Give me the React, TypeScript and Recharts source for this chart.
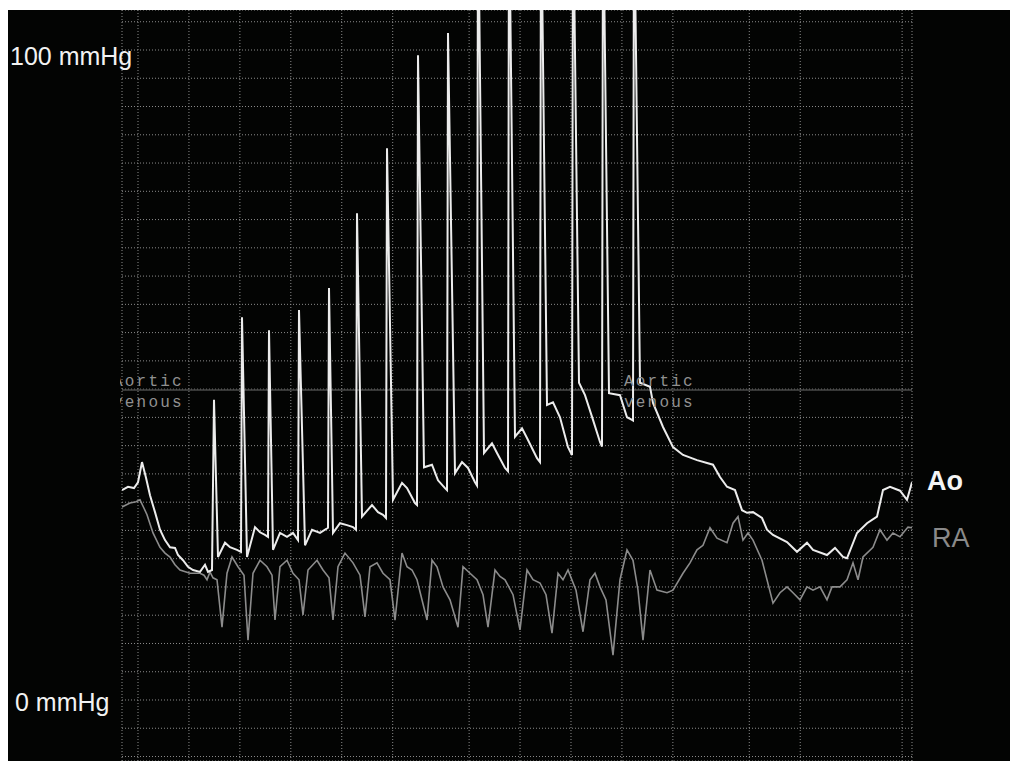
import React from 'react';
import { LineChart, Line, XAxis, YAxis, CartesianGrid, ReferenceLine } from 'recharts';

// Aortic pressure trace (Ao): sample time (sweep units) and pressure (mmHg)
const aoTime = [
  122, 128, 134, 138, 142, 146, 150, 155, 160, 165, 170, 175, 178, 183, 188, 193, 200, 205, 208, 212,
  214, 218, 225, 230, 237, 241,
  242, 247, 255, 260, 265, 268,
  269, 273, 280, 287, 293, 298,
  299, 305, 312, 320, 328,
  329, 333, 340, 347, 353, 356,
  357, 362, 372, 378, 383, 386,
  387, 393, 402, 407, 415, 417,
  418, 424, 432, 438, 445, 447,
  448, 455, 462, 468, 475, 477,
  478, 484, 492, 497, 505, 508,
  509, 515, 522, 527, 537, 540,
  541, 547, 553, 560, 568, 572,
  573, 579, 585, 593, 600, 602,
  603, 609, 620, 627, 632, 633,
  634, 640, 645, 650, 653, 663, 673, 683, 697, 713, 720, 727, 735, 742, 747, 753, 762, 767, 773,
  787, 797, 807, 813, 827, 835, 843, 847, 857, 867, 877, 883, 890, 900, 907, 912,
];
const aoPressure = [
  32.3, 32.8, 32.6, 33.5, 36.6, 34.2, 31.5, 28.9, 26.2, 24.6, 23.5, 23.4, 22.3, 21.5, 20.5, 20.0, 19.7, 20.8, 19.7, 20.0,
  46.2, 22.0, 24.2, 23.5, 23.1, 22.8,
  58.9, 22.0, 26.6, 25.8, 25.4, 25.1,
  56.9, 23.1, 25.7, 25.1, 25.7, 24.6,
  60.0, 23.8, 26.2, 25.7, 26.5,
  63.4, 25.7, 27.2, 26.9, 26.6, 26.2,
  74.9, 28.2, 30.0, 28.9, 28.5, 28.0,
  84.9, 30.8, 33.4, 32.6, 30.3, 30.0,
  99.2, 35.8, 36.2, 33.8, 32.6, 32.3,
  102.6, 34.9, 36.6, 35.7, 33.5, 33.0,
  125, 38.0, 39.5, 38.0, 35.7, 35.2,
  125, 40.5, 41.8, 40.3, 37.2, 36.6,
  125, 45.4, 45.8, 43.5, 38.9, 37.7,
  125, 48.8, 46.9, 43.1, 39.7, 39.0,
  125, 47.2, 46.9, 43.5, 43.1, 43.0,
  125, 48.8, 48.5, 48.2, 45.7, 42.0, 38.9, 37.7, 36.9, 36.2, 34.3, 32.8, 32.3, 29.2, 28.8, 28.9, 28.0, 26.2, 25.4,
  24.3, 22.8, 24.2, 23.1, 22.3, 23.4, 22.0, 21.8, 25.7, 27.2, 28.2, 32.3, 32.8, 32.2, 30.8, 33.5,
];

// Right atrial pressure trace (RA)
const raTime = [
  122, 130, 136, 140, 144, 147, 153, 160, 165, 170, 175, 180, 190, 200, 204, 207, 210, 213,
  217, 222, 227, 232, 238, 244, 248, 253, 260, 267, 272, 275, 280, 287, 293, 299, 303, 308, 317, 323,
  329, 333, 338, 345, 353, 360, 365, 370, 377, 383, 390, 395, 402, 407, 412, 417, 427, 432, 437, 443,
  450, 458, 463, 470, 477, 483, 488, 495, 500, 505, 513, 520, 527, 533, 540, 546, 552, 558, 563, 568,
  576, 583, 590, 595, 600, 606, 613, 620, 627, 633, 638, 643, 650, 657, 667, 673, 683, 690, 697, 703,
  710, 717, 727, 733, 738, 743, 748, 753, 762, 773, 780, 787, 793, 800, 807, 813, 820, 827, 832, 840,
  847, 853, 858, 863, 873, 880, 887, 893, 900, 908, 912,
];
const raPressure = [
  29.7, 30.3, 30.5, 30.8, 29.5, 28.5, 25.7, 23.5, 22.6, 22.0, 20.8, 20.0, 19.5, 19.5, 19.2, 18.5, 19.7, 18.8,
  18.5, 11.2, 19.5, 22.0, 20.5, 19.2, 9.2, 19.5, 21.5, 20.5, 19.2, 12.3, 20.5, 21.5, 19.5, 18.5, 13.1, 20.0, 21.5, 20.0,
  18.8, 12.3, 20.5, 22.6, 21.1, 19.2, 12.8, 20.5, 21.1, 19.5, 18.5, 12.3, 22.6, 20.5, 20.0, 18.5, 12.3, 21.5, 20.5, 17.4,
  15.4, 11.2, 20.5, 19.5, 18.5, 16.2, 11.2, 20.0, 19.0, 18.5, 16.2, 10.8, 20.0, 18.5, 18.0, 16.2, 10.3, 19.5, 18.5, 20.0,
  16.9, 10.5, 18.5, 19.5, 17.4, 15.4, 6.9, 18.5, 23.1, 21.5, 16.9, 9.2, 20.0, 16.9, 16.5, 16.9, 19.5, 21.1, 23.1, 23.8,
  26.5, 24.9, 24.2, 27.2, 28.2, 24.6, 25.7, 24.6, 21.5, 14.9, 16.5, 17.4, 16.5, 15.4, 17.4, 16.9, 17.4, 15.4, 17.4, 17.4,
  18.5, 21.1, 18.5, 22.0, 23.5, 26.2, 24.6, 25.7, 25.1, 26.6, 26.5,
];

// Grid divisions of the monitor sweep
const gridTimes = Array.from({ length: 31 }, (_, k) => 138 + 25.47 * k);
const gridPressures = Array.from({ length: 27 }, (_, k) => ((k - 2) * 100) / 23);
const referenceLevel = 47.7;
const pressureLabels = [
  { value: 100, text: '100 mmHg' },
  { value: 0, text: '0 mmHg' },
];

const aoData = aoTime.map((t, i) => ({ t, p: aoPressure[i] }));
const raData = raTime.map((t, i) => ({ t, p: raPressure[i] }));

const W = 1010;
const H = 751;

const PressureTick = (props: any) => {
  const { y, payload } = props;
  const v = payload.value as number;
  const lab = pressureLabels.find((l) => Math.abs(l.value - v) < 0.01);
  if (!lab) return <g />;
  const isTop = lab.value === 100;
  return (
    <text
      x={isTop ? 2 : 7}
      y={y + (isTop ? 15 : 11)}
      fill="#f2f2f2"
      fontFamily="'Liberation Sans', Arial, sans-serif"
      fontSize={25}
      textAnchor="start"
    >
      {lab.text}
    </text>
  );
};

export default function App() {
  return (
    <div style={{ paddingTop: 2 }}>
      <div style={{ position: 'relative', width: W, height: H, background: '#030403' }}>
        <LineChart width={W} height={H} margin={{ top: 0, right: 106, bottom: 0, left: 0 }}>
          <CartesianGrid stroke="#8c8c8c" strokeDasharray="1 2" strokeWidth={1} />
          <XAxis
            type="number"
            dataKey="t"
            domain={[122, 912]}
            ticks={gridTimes}
            allowDataOverflow
            hide
          />
          <YAxis
            type="number"
            width={114}
            domain={[-9.385, 106.154]}
            ticks={gridPressures}
            interval={0}
            allowDataOverflow
            axisLine={false}
            tickLine={false}
            tick={<PressureTick />}
          />
          <ReferenceLine y={referenceLevel} stroke="#4a4a4a" strokeWidth={1.5} />
          <Line
            data={raData}
            dataKey="p"
            type="linear"
            stroke="#8c8c8c"
            strokeWidth={1.6}
            dot={false}
            isAnimationActive={false}
          />
          <Line
            data={aoData}
            dataKey="p"
            type="linear"
            stroke="#ececec"
            strokeWidth={2}
            dot={false}
            isAnimationActive={false}
          />
        </LineChart>
        <svg
          width={W}
          height={H}
          style={{ position: 'absolute', left: 0, top: 0, pointerEvents: 'none' }}
        >
          <defs>
            <clipPath id="labelClip">
              <rect x={112} y={0} width={W - 112} height={H} />
            </clipPath>
          </defs>
          <g
            fontFamily="'Liberation Mono', 'DejaVu Sans Mono', monospace"
            fontSize={16}
            letterSpacing={2.2}
            fill="#909090"
            clipPath="url(#labelClip)"
          >
            <text x={105} y={376}>Aortic</text>
            <text x={105} y={397}>venous</text>
            <text x={616} y={376}>Aortic</text>
            <text x={616} y={397}>venous</text>
          </g>
          <text
            x={919}
            y={480}
            fill="#f4f4f4"
            fontFamily="'Liberation Sans', Arial, sans-serif"
            fontSize={27}
            fontWeight="bold"
          >
            Ao
          </text>
          <text
            x={924}
            y={537}
            fill="#8a8a8a"
            fontFamily="'Liberation Sans', Arial, sans-serif"
            fontSize={27}
          >
            RA
          </text>
        </svg>
      </div>
    </div>
  );
}
